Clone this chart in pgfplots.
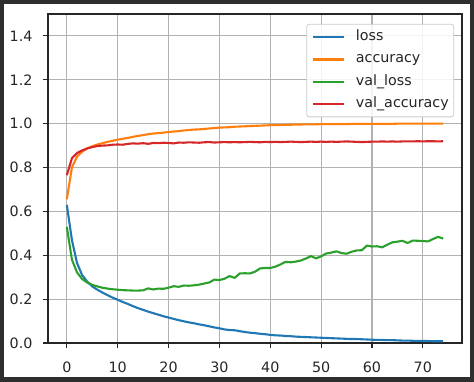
\documentclass[border=0pt]{standalone}
\usepackage{pgfplots}
\pgfplotsset{compat=1.18}
\usepackage{pgfplotstable}
\usepackage{fontspec}
\setmainfont{DejaVu Sans}
\definecolor{tabblue}{HTML}{1F77B4}
\definecolor{taborange}{HTML}{FF7F0E}
\definecolor{tabgreen}{HTML}{2CA02C}
\definecolor{tabred}{HTML}{D62728}
\definecolor{frame}{HTML}{2E2E2E}
\pgfplotstableread{
ep loss acc vloss vacc
0 0.630 0.655 0.530 0.765
1 0.470 0.800 0.380 0.842
2 0.365 0.850 0.322 0.866
3 0.310 0.872 0.292 0.878
4 0.280 0.887 0.276 0.887
5 0.258 0.897 0.265 0.893
6 0.243 0.905 0.258 0.898
7 0.230 0.911 0.252 0.900
8 0.218 0.917 0.248 0.901
9 0.207 0.922 0.245 0.904
10 0.197 0.927 0.243 0.905
11 0.187 0.931 0.241 0.904
12 0.178 0.935 0.240 0.908
13 0.168 0.940 0.239 0.910
14 0.159 0.944 0.239 0.909
15 0.151 0.948 0.240 0.911
16 0.143 0.952 0.249 0.908
17 0.136 0.955 0.244 0.912
18 0.129 0.957 0.248 0.911
19 0.122 0.959 0.247 0.913
20 0.116 0.962 0.252 0.912
21 0.110 0.964 0.259 0.910
22 0.104 0.966 0.256 0.914
23 0.099 0.969 0.262 0.913
24 0.094 0.971 0.261 0.915
25 0.090 0.973 0.263 0.914
26 0.085 0.974 0.266 0.913
27 0.081 0.976 0.271 0.915
28 0.076 0.978 0.276 0.916
29 0.071 0.980 0.289 0.914
30 0.067 0.982 0.287 0.915
31 0.062 0.983 0.293 0.916
32 0.059 0.984 0.305 0.915
33 0.058 0.986 0.297 0.916
34 0.054 0.987 0.317 0.915
35 0.050 0.988 0.318 0.916
36 0.047 0.989 0.317 0.917
37 0.045 0.990 0.325 0.916
38 0.042 0.991 0.340 0.915
39 0.040 0.992 0.342 0.917
40 0.037 0.993 0.342 0.916
41 0.035 0.994 0.348 0.917
42 0.034 0.994 0.358 0.916
43 0.032 0.995 0.370 0.917
44 0.031 0.995 0.368 0.918
45 0.029 0.996 0.371 0.917
46 0.028 0.996 0.376 0.916
47 0.027 0.997 0.385 0.917
48 0.026 0.997 0.396 0.918
49 0.025 0.997 0.386 0.917
50 0.024 0.998 0.395 0.918
51 0.023 0.998 0.408 0.917
52 0.022 0.998 0.412 0.918
53 0.021 0.998 0.418 0.917
54 0.020 0.998 0.410 0.918
55 0.019 0.998 0.407 0.919
56 0.018 0.999 0.416 0.918
57 0.018 0.999 0.422 0.917
58 0.017 0.999 0.423 0.916
59 0.016 0.999 0.444 0.917
60 0.015 0.999 0.440 0.918
61 0.014 0.999 0.441 0.918
62 0.014 0.999 0.436 0.919
63 0.013 0.999 0.448 0.918
64 0.013 0.999 0.459 0.919
65 0.012 1.000 0.462 0.918
66 0.011 1.000 0.466 0.919
67 0.011 1.000 0.456 0.919
68 0.010 1.000 0.467 0.919
69 0.010 1.000 0.466 0.920
70 0.009 1.000 0.465 0.919
71 0.009 1.000 0.463 0.920
72 0.008 1.000 0.474 0.920
73 0.008 1.000 0.484 0.919
74 0.008 1.000 0.476 0.920
}\hist
\begin{document}
\begin{tikzpicture}[x=1pt,y=1pt,font=\fontsize{14.3}{17}\selectfont]
\fill[frame] (0,0) rectangle (474,382);
\fill[white] (4,5) rectangle (470,378);
\begin{axis}[
  at={(48pt,39pt)}, anchor=south west,
  scale only axis, width=414pt, height=329pt,
  xmin=-3.7, xmax=77.7, ymin=0, ymax=1.5,
  xtick={0,10,...,70}, ytick={0,0.2,...,1.4},
  grid=major, major grid style={color=black!30, line width=1.1pt},
  axis line style={line width=1.1pt, color=black!85},
  tick style={line width=1.1pt, color=black!85},
  tick align=outside, major tick length=4.9pt,
  xtick pos=bottom, ytick pos=left,
  /pgf/number format/assume math mode=true,
  yticklabel style={/pgf/number format/fixed, /pgf/number format/fixed zerofill, /pgf/number format/precision=1, inner sep=0pt, xshift=-10.5pt, text=black!85},
  xticklabel style={inner sep=0pt, yshift=-14pt, anchor=north, text=black!85},
  every axis plot/.append style={line width=2.1pt, line join=round},
  legend image code/.code={\draw[#1] (0pt,0pt) -- (31pt,0pt);},
  legend cell align=left,
  legend style={at={(0.981,0.97)}, anchor=north east, draw=black!20, fill=white, fill opacity=0.85, text opacity=1, rounded corners=2.5pt, line width=0.8pt,
    inner xsep=5pt, inner ysep=6.5pt, row sep=9.2pt,
    nodes={inner sep=0pt, text height=10pt, text depth=3pt, text=black!85},
    /tikz/every odd column/.style={column sep=11pt}},
]
\addplot[tabblue] table[x=ep,y=loss] {\hist};
\addlegendentry{loss}
\addplot[taborange] table[x=ep,y=acc] {\hist};
\addlegendentry{accuracy}
\addplot[tabgreen] table[x=ep,y=vloss] {\hist};
\addlegendentry{val\_loss}
\addplot[tabred] table[x=ep,y=vacc] {\hist};
\addlegendentry{val\_accuracy}
\end{axis}
\end{tikzpicture}
\end{document}
